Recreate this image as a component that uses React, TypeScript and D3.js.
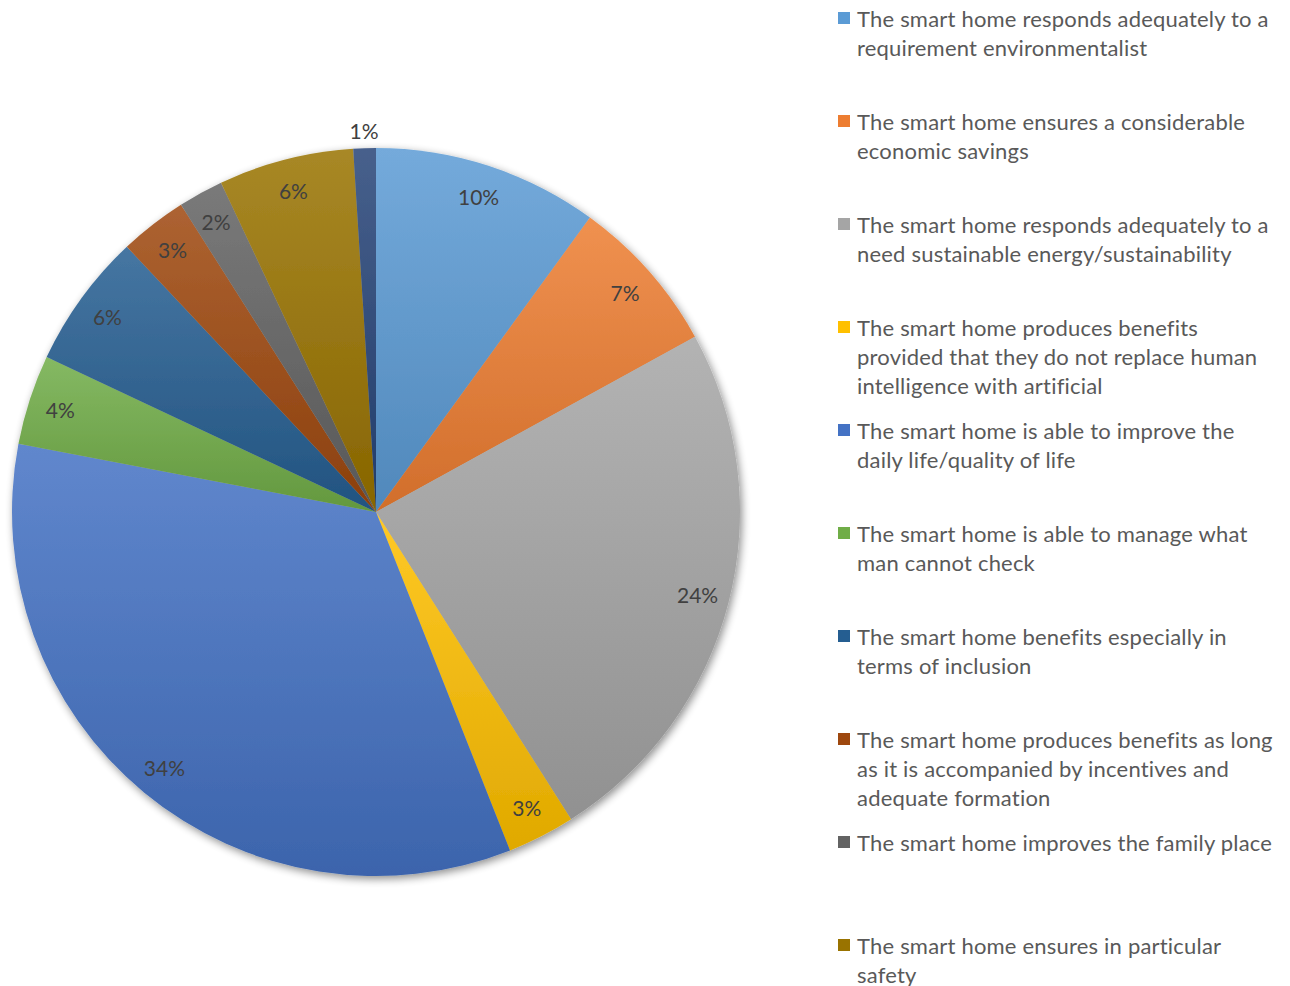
import React from "react";
import * as d3 from "d3";

const categories: string[] = [
  "The smart home responds adequately to a requirement environmentalist",
  "The smart home ensures a considerable economic savings",
  "The smart home responds adequately to a need sustainable energy/sustainability",
  "The smart home produces benefits provided that they do not replace human intelligence with artificial",
  "The smart home is able to improve the daily life/quality of life",
  "The smart home is able to manage what man cannot check",
  "The smart home benefits especially in terms of inclusion",
  "The smart home produces benefits as long as it is accompanied by incentives and adequate formation",
  "The smart home improves the family place",
  "The smart home ensures in particular safety",
  "Other",
];

const legendLines: string[][] = [
  ["The smart home responds adequately to a", "requirement environmentalist"],
  ["The smart home ensures a considerable", "economic savings"],
  ["The smart home responds adequately to a", "need sustainable energy/sustainability"],
  ["The smart home produces benefits", "provided that they do not replace human", "intelligence with artificial"],
  ["The smart home is able to improve the", "daily life/quality of life"],
  ["The smart home is able to manage what", "man cannot check"],
  ["The smart home benefits especially in", "terms of inclusion"],
  ["The smart home produces benefits as long", "as it is accompanied by incentives and", "adequate formation"],
  ["The smart home improves the family place"],
  ["The smart home ensures in particular", "safety"],
];

const values: number[] = [10, 7, 24, 3, 34, 4, 6, 3, 2, 6, 1];

const colors: string[] = [
  "#5B9BD5", "#ED7D31", "#A5A5A5", "#FFC000", "#4472C4", "#70AD47",
  "#255E91", "#9E480E", "#636363", "#997300", "#264478",
];

export default function App() {
  const cx = 376, cy = 512, R = 364;
  const pie = d3.pie<number>().sort(null).value((d) => d);
  const arcs = pie(values);
  const arc = d3.arc<d3.PieArcDatum<number>>().innerRadius(0).outerRadius(R);
  const labelArc = d3.arc<d3.PieArcDatum<number>>().innerRadius(332).outerRadius(332);
  const outerLabelArc = d3.arc<d3.PieArcDatum<number>>().innerRadius(382).outerRadius(382);
  const total = d3.sum(values);
  const fmt = (v: number) => `${Math.round((v / total) * 100)}%`;

  const legendX = 838, legendY0 = 18, legendStep = 103, lineH = 29;

  return (
    <svg width={1290} height={986} style={{ position: "absolute", left: 0, top: 0 }}>
      <defs>
        <filter id="shadow" x="-10%" y="-10%" width="120%" height="120%">
          <feGaussianBlur in="SourceAlpha" stdDeviation="4" />
          <feOffset dx="2" dy="3" result="b" />
          <feComponentTransfer><feFuncA type="linear" slope="0.45" /></feComponentTransfer>
          <feMerge>
            <feMergeNode />
            <feMergeNode in="SourceGraphic" />
          </feMerge>
        </filter>
        {colors.map((c, i) => {
          const top = d3.interpolateRgb(c, "#ffffff")(0.15);
          const bot = d3.interpolateRgb(c, "#000000")(0.12);
          return (
            <linearGradient key={i} id={`g${i}`} x1="0" y1="0" x2="0" y2="1">
              <stop offset="0" stopColor={top} />
              <stop offset="1" stopColor={bot} />
            </linearGradient>
          );
        })}
      </defs>
      <rect width={1290} height={986} fill="#ffffff" />
      <g transform={`translate(${cx},${cy})`} filter="url(#shadow)">
        {arcs.map((a, i) => (
          <path key={i} d={arc(a) || ""} fill={`url(#g${i})`} />
        ))}
      </g>
      <g transform={`translate(${cx},${cy})`} fontFamily="Lato, 'Open Sans', sans-serif" fontSize={21} fill="#404040">
        {arcs.map((a, i) => {
          const isSmall = values[i] / total < 0.015;
          const [x, y] = isSmall ? outerLabelArc.centroid(a) : labelArc.centroid(a);
          return (
            <text key={i} x={x} y={y} textAnchor="middle" dominantBaseline="central">
              {fmt(values[i])}
            </text>
          );
        })}
      </g>
      <g fontFamily="Lato, 'Open Sans', sans-serif" fontSize={22} letterSpacing={0.2} fill="#595959">
        {legendLines.map((lines, i) => {
          const y0 = legendY0 + i * legendStep;
          return (
            <g key={i}>
              <rect x={legendX} y={y0 - 6} width={12} height={12} fill={colors[i]} />
              {lines.map((l, j) => (
                <text key={j} x={legendX + 19} y={y0 + j * lineH} dominantBaseline="central">
                  {l}
                </text>
              ))}
            </g>
          );
        })}
      </g>
    </svg>
  );
}
